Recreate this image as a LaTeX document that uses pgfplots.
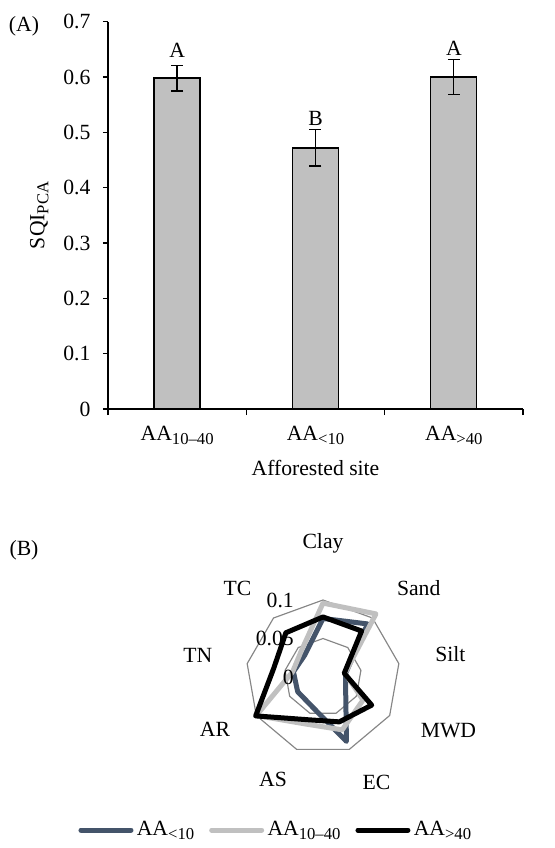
\documentclass[border=0pt]{standalone}
\usepackage{fontspec}
\setmainfont{Liberation Serif}
\usepackage{pgfplots}
\pgfplotsset{compat=1.18}
\usepgfplotslibrary{polar}
\definecolor{bluegrey}{HTML}{44546A}
\definecolor{lgrey}{HTML}{C0C0C0}
\definecolor{gridgrey}{HTML}{868686}
\newcommand{\sub}[1]{\raisebox{-0.4ex}{\fontsize{10}{10}\selectfont #1}}
\begin{document}
\fontsize{13}{15.5}\selectfont
\begin{tikzpicture}[font=\fontsize{13}{15.5}\selectfont]
\path[use as bounding box] (0,0) rectangle (332.4pt,-508.8pt);
\node at (14.4pt,-15.5pt) {(A)};
\node at (14.4pt,-330pt) {(B)};
\begin{axis}[
  at={(64.8pt,-245.4pt)}, anchor=south west,
  scale only axis, width=249pt, height=232.4pt,
  xmin=-0.5, xmax=2.5, ymin=0, ymax=0.7,
  axis x line*=bottom, axis y line*=left,
  axis line style={-, black, line width=0.8pt},
  ybar, bar width=27.6pt,
  xtick={0,1,2},
  xticklabels={AA\sub{10--40}, AA\sub{<10}, AA\sub{>40}},
  major x tick style={draw=none},
  minor xtick={-0.5,0.5,1.5,2.5},
  tick align=outside,
  major tick length=3pt, minor tick length=3.6pt,
  tick style={black, line width=0.7pt},
  ytick={0,0.1,0.2,0.3,0.4,0.5,0.6,0.7},
  yticklabels={0,0.1,0.2,0.3,0.4,0.5,0.6,0.7},
  xticklabel style={yshift=-3pt},
  yticklabel style={xshift=-3pt},
  ylabel={SQI\sub{PCA}},
  xlabel={Afforested site},
  ylabel style={yshift=0pt},
]
\addplot[ybar, fill=lgrey, draw=black, line width=0.8pt,
  error bars/.cd, y dir=both, y explicit,
  error bar style={line width=0.8pt, black},
  error mark options={rotate=90, mark size=3.6pt, line width=0.8pt, black}]
coordinates {(0,0.598) +- (0,0.023) (1,0.472) +- (0,0.033) (2,0.600) +- (0,0.032)};
\node at (axis cs:0,0.649) {A};
\node at (axis cs:1,0.526) {B};
\node at (axis cs:2,0.652) {A};
\end{axis}
\begin{polaraxis}[
  at={(193.8pt,-406.2pt)}, anchor=center,
  scale only axis, width=92.4pt, height=92.4pt,
  ymin=0, ymax=0.1, hide axis, clip=false,
  legend columns=3,
  legend style={at={(0.198,-0.494)}, anchor=center, draw=none, fill=none,
    font=\fontsize{13}{15.5}\selectfont,
    /tikz/every even column/.append style={column sep=7pt}},
  legend image code/.code={\draw[#1, line cap=round] (0pt,0pt) -- (30pt,0pt);},
]
\addplot[gridgrey, line width=0.7pt, forget plot] coordinates {(90,0.05)(50,0.05)(10,0.05)(330,0.05)(290,0.05)(250,0.05)(210,0.05)(170,0.05)(130,0.05)} -- cycle;
\addplot[gridgrey, line width=0.7pt, forget plot] coordinates {(90,0.1)(50,0.1)(10,0.1)(330,0.1)(290,0.1)(250,0.1)(210,0.1)(170,0.1)(130,0.1)} -- cycle;
\addplot[bluegrey, line width=3pt, line join=round] coordinates {(90,0.076)(50,0.090)(10,0.030)(330,0.034)(290,0.089)(250,0.041)(210,0.038)(170,0.039)(130,0.037)} -- cycle;
\addplot[lgrey, line width=3pt, line join=round] coordinates {(90,0.096)(50,0.107)(10,0.029)(330,0.060)(290,0.073)(250,0.065)(210,0.100)(170,0.040)(130,0.044)} -- cycle;
\addplot[black, line width=3pt, line join=round] coordinates {(90,0.078)(50,0.078)(10,0.028)(330,0.073)(290,0.062)(250,0.059)(210,0.101)(170,0.065)(130,0.075)} -- cycle;
\legend{AA\sub{<10}, AA\sub{10--40}, AA\sub{>40}}
\node[anchor=east, xshift=-13pt] at (axis cs:90,0.1) {0.1};
\node[anchor=east, xshift=-13pt] at (axis cs:90,0.05) {0.05};
\node[anchor=east, xshift=-13pt] at (axis cs:90,0) {0};
\node at (axis cs:90,0.174) {Clay};
\node at (axis cs:43,0.170) {Sand};
\node at (axis cs:10,0.168) {Silt};
\node at (axis cs:337,0.177) {MWD};
\node at (axis cs:297,0.153) {EC};
\node at (axis cs:244,0.148) {AS};
\node at (axis cs:206,0.156) {AR};
\node at (axis cs:170,0.165) {TN};
\node at (axis cs:134,0.160) {TC};
\end{polaraxis}
\end{tikzpicture}
\end{document}
